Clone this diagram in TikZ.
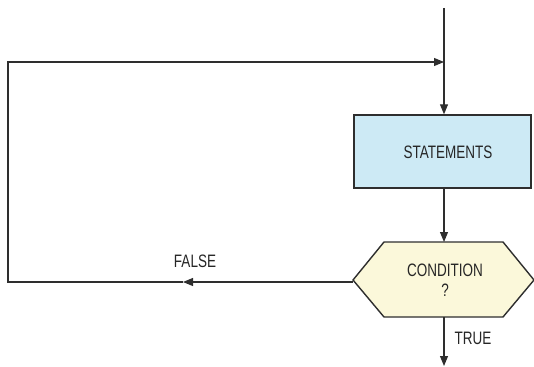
\documentclass[tikz,border=0pt]{standalone}
\usepackage{fontspec}
\setmainfont{Liberation Sans}
\usetikzlibrary{arrows.meta}
\definecolor{linec}{HTML}{2E2E2E}
\definecolor{stfill}{HTML}{CDEAF5}
\definecolor{cdfill}{HTML}{FBF8DA}
\definecolor{txtc}{HTML}{262626}
\tikzset{
  conn/.style={draw=linec, line width=1.1pt},
  arr/.style={conn, -{Triangle[length=10pt,width=8pt]}},
  stbox/.style={draw=linec, line width=1.4pt, fill=stfill, minimum width=177pt, minimum height=73pt, inner sep=0pt},
  hexa/.style={draw=linec, line width=1.4pt, fill=cdfill, line join=miter},
  lbl/.style={text=txtc, inner sep=0pt, font=\fontsize{18}{20}\selectfont},
}
\newcommand{\narrow}[1]{\scalebox{0.75}[1]{#1}}
\begin{document}
\begin{tikzpicture}[x=1pt,y=-1pt]
\useasboundingbox (0,0) rectangle (534,366);
% nodes
\node[stbox] (st) at (442.5,151.5) {};
\node[lbl] (sttxt) at (448,152) {\narrow{STATEMENTS}};
\path[hexa] (353,280) -- (384,242) -- (503,242) -- (534,280) -- (503,317) -- (384,317) -- cycle;
\coordinate (cw) at (353,280);
\coordinate (cn) at (444,242);
\coordinate (cs) at (444,317);
\node[lbl] (cond) at (445,270) {\narrow{CONDITION}};
\node[lbl] (q) at (445,290) {\narrow{?}};
\node[lbl] (true) at (473,338) {\narrow{TRUE}};
\node[lbl] (false) at (195,261) {\narrow{FALSE}};
% coordinates
\coordinate (top) at (444,8);
\coordinate (join) at (444,62);
\coordinate (tl) at (8,62);
\coordinate (bl) at (8,282);
\coordinate (fa) at (183,282);
\coordinate (end) at (444,366);
% connectors
\draw[arr] (top) -- (st.north -| top);
\draw[arr] (st.south -| cn) -- (cn);
\draw[arr] (cs) -- (end);
\draw[arr] (cw |- bl) -- (fa);
\draw[conn] (fa) -- (bl) -- (tl) -- ([xshift=-6pt]tl -| join);
\draw[arr] (tl) -- (join);
\end{tikzpicture}
\end{document}
